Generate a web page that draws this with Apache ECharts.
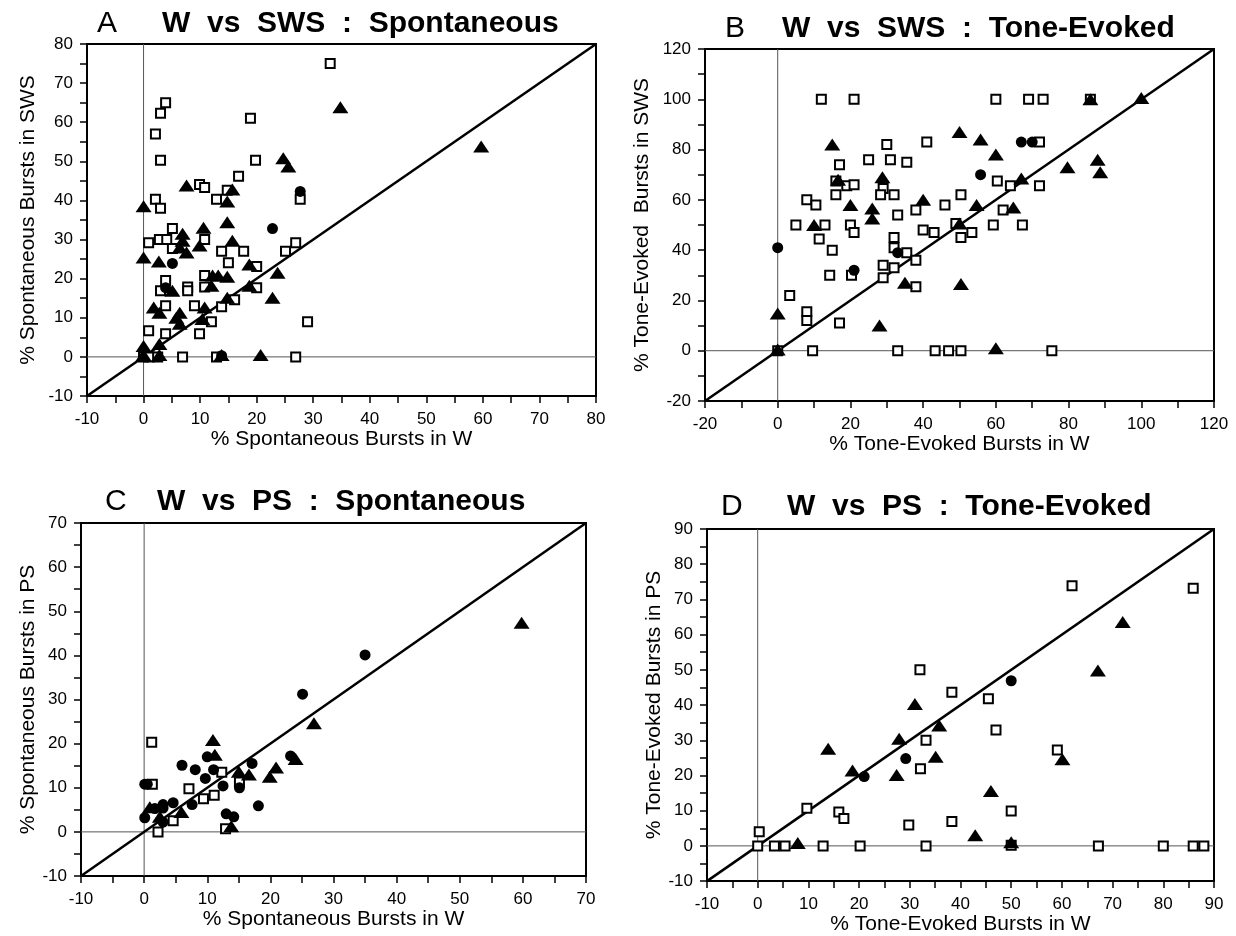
<!DOCTYPE html>
<html>
<head>
<meta charset="utf-8">
<script src="https://cdn.jsdelivr.net/npm/echarts@6/dist/echarts.min.js"></script>
<style>html,body{margin:0;padding:0;background:#fff;}#c{width:1236px;height:936px;}</style>
</head>
<body>
<div id="c"></div>
<script>
// ---------- Panel A: W vs SWS, Spontaneous ----------
const aRange = [-10, 80];
const aSquares = [[33,75],[3.9,65],[3,62.3],[2.1,57],[18.9,61],[3,50.3],[19.8,50.3],[16.8,46.2],[27.7,40.3],[9.9,44.1],[10.8,43.3],[14.8,42.6],[12.9,40.3],[2.1,40.3],[3,38],[5.1,32.8],[0.9,29.2],[2.8,30],[4.1,30],[10.8,30],[5.1,27.7],[13.8,27],[17.7,27],[25.1,27],[26.9,29.2],[15,24.1],[20,23.1],[10.8,20.8],[3.9,19.5],[3,16.9],[7.8,17.9],[7.8,16.9],[10.8,17.9],[20,17.7],[16.1,14.6],[3.9,13.1],[9,13.1],[13.8,12.8],[12,9],[29,9],[0.9,6.7],[3.9,5.9],[9.9,5.9],[0,0],[1,0],[2.5,0],[6.9,0],[12.9,0],[26.9,0]];
const aTriangles = [[34.8,63.8],[24.7,50.8],[25.6,48.7],[7.6,43.8],[15.7,42.8],[14.8,39.7],[0,38.5],[14.8,34.4],[10.6,33],[6.9,31.5],[6.9,29.7],[15.7,29.7],[9.9,28.5],[6.4,28],[7.6,26.7],[0,25.4],[2.7,24.4],[18.7,23.6],[23.7,21.5],[12.2,20.8],[13.2,20.8],[14.8,20.5],[5.1,16.9],[12,18.2],[18.7,18.2],[14.8,15.1],[22.8,15.1],[1.8,12.6],[2.8,11.3],[10.8,12.6],[6.4,11.3],[5.8,10],[10.4,9.7],[6.4,8.5],[0,2.8],[2.8,3.3],[0,0.5],[2.8,0.5],[13.8,0.5],[20.7,0.5],[59.7,53.8]];
const aCircles = [[27.7,42.3],[22.8,32.8],[5.1,23.9],[3.9,17.7],[13.8,0.3]];

// ---------- Panel B: W vs SWS, Tone-Evoked ----------
const bRange = [-20, 120];
const bSquares = [[12,100],[21,100],[60,100],[69,100],[73,100],[86,100],[30,82],[41,83],[72,83],[17,74],[25,76],[31,76],[35.5,75],[16,67.5],[19,65.6],[21,66],[29,64.5],[28.3,62],[32,62],[16,62],[8,60],[10.5,58],[33,54],[38,56],[46,58],[50.4,62],[60.4,67.5],[64,65.6],[72,65.6],[62,56],[59.3,50],[67.3,50],[5,50],[13,50],[20,50],[21,47],[40,48],[43,47],[49,50.6],[50.4,45],[53.4,47],[11.4,44.4],[15,40],[32,45],[32,41],[35.5,39],[38,36],[29,34],[32,33],[29,29],[38,25.4],[14.3,30],[20.3,30],[3.3,22],[8,15.5],[8,12],[17,11],[0,0],[9.6,0],[33,0],[43.3,0],[47,0],[50.4,0],[75.4,0]];
const bTriangles = [[15,82],[50,87],[55.8,84],[60,78],[16.6,68],[28.8,69],[20,58],[26,56.6],[26,52.6],[40,60],[54.7,58],[10,50],[50,50.6],[35,27],[50.4,26.5],[0,14.8],[28,10],[0,0.5],[60,1],[67,68.5],[64.8,57],[79.7,73],[88,76],[88.7,71],[86,100],[100,100.5]];
const bCircles = [[55.8,70],[67,83],[70,83],[0,41],[21,32],[33,39]];

// ---------- Panel C: W vs PS, Spontaneous ----------
const cRange = [-10, 70];
const cSquares = [[1.2,20.3],[12.3,13.5],[15.1,11.3],[1.3,10.8],[7.1,9.8],[9.4,7.5],[11.1,8.3],[4.6,2.5],[2.2,0],[12.9,0.7]];
const cTriangles = [[10.9,20.8],[11.2,17.5],[15,13.6],[16.6,13],[20.9,14.6],[19.9,12.5],[24,16.5],[26.9,24.6],[0.9,5.6],[5.9,4.5],[2.5,3.4],[13.8,1.3],[59.8,47.4]];
const cCircles = [[25.1,31.2],[10,17],[6,15.1],[8.1,14.1],[11,14.1],[17.1,15.5],[23.2,17.2],[9.7,12.1],[12.5,10.4],[15.1,10],[0.1,10.8],[0.5,10.8],[18.1,5.9],[7.6,6.2],[4.6,6.6],[3,6.2],[1.7,5.3],[0.1,3.2],[3,5.4],[3,2.2],[13,4.1],[14.2,3.4],[35,40.1]];

// ---------- Panel D: W vs PS, Tone-Evoked ----------
const dRange = [-10, 90];
const dSquares = [[32,50],[38.3,43.6],[33.2,30],[32.1,21.9],[9.7,10.7],[16,9.6],[17,7.8],[29.8,5.9],[38.3,6.9],[0.3,4],[0,0],[3.3,0],[5.4,0],[12.9,0],[20.2,0],[33.2,0],[62,73.9],[85.9,73.2],[45.5,41.8],[47,32.9],[59.1,27.2],[50,9.9],[50,0.2],[67.2,0],[80,0],[85.9,0],[88,0]];
const dTriangles = [[31,40.3],[35.8,34.2],[27.9,30.4],[13.9,27.6],[35.1,25.3],[18.7,21.4],[27.4,20.1],[7.9,0.8],[72,63.6],[67.1,49.8],[60.1,24.6],[46,15.6],[42.9,3],[50,1]];
const dCircles = [[29.2,24.8],[21,19.7],[50,46.9]];

// ---------- Text ----------
const panelLetters = ['A', 'B', 'C', 'D'];
const panelTitles = ['W  vs  SWS  :  Spontaneous', 'W  vs  SWS  :  Tone-Evoked', 'W  vs  PS  :  Spontaneous', 'W  vs  PS  :  Tone-Evoked'];
const xNames = ['% Spontaneous Bursts in W', '% Tone-Evoked Bursts in W', '% Spontaneous Bursts in W', '% Tone-Evoked Bursts in W'];
const yNames = ['% Spontaneous Bursts in SWS', '% Tone-Evoked  Bursts in SWS', '% Spontaneous Bursts in PS', '% Tone-Evoked Bursts in PS'];
const intervals = [10, 20, 10, 10];

const FONT = '"Liberation Sans", Arial, Helvetica, sans-serif';
const grids = [
  {left: 87, top: 44, width: 509, height: 352},
  {left: 705, top: 49, width: 509, height: 352},
  {left: 81, top: 523, width: 505, height: 353},
  {left: 707, top: 529, width: 507, height: 353}
];
const letterPos = [[97, 24], [725, 29], [105, 502], [721, 507]];
const titlePos = [[162, 24], [782, 29], [157, 502], [787, 507]];
const yNameGap = [48, 52, 42, 42];

const ranges = [aRange, bRange, cRange, dRange];
const sets = [
  [aSquares, aTriangles, aCircles],
  [bSquares, bTriangles, bCircles],
  [cSquares, cTriangles, cCircles],
  [dSquares, dTriangles, dCircles]
];

function axis(i, isX) {
  const r = ranges[i];
  return {
    type: 'value', gridIndex: i, min: r[0], max: r[1], interval: intervals[i],
    name: isX ? xNames[i] : yNames[i],
    nameLocation: 'middle',
    nameGap: isX ? 32 : yNameGap[i],
    nameTextStyle: {fontFamily: FONT, fontSize: 21, color: '#000'},
    axisLine: {show: true, onZero: false, lineStyle: {color: '#000', width: 2}},
    axisTick: {show: true, inside: false, length: 7, lineStyle: {color: '#000', width: 1.5}},
    minorTick: {show: true, splitNumber: 2, length: 7, lineStyle: {color: '#000', width: 1.5}},
    axisLabel: {fontFamily: FONT, fontSize: 17, color: '#000', margin: isX ? 15 : 14},
    splitLine: {show: false},
    minorSplitLine: {show: false}
  };
}

const series = [];
for (let i = 0; i < 4; i++) {
  const r = ranges[i];
  const base = {xAxisIndex: i, yAxisIndex: i, silent: true, animation: false};
  series.push(Object.assign({type: 'line', data: [[0, r[0]], [0, r[1]]], symbol: 'none', lineStyle: {color: '#555', width: 1}, z: 1}, base));
  series.push(Object.assign({type: 'line', data: [[r[0], 0], [r[1], 0]], symbol: 'none', lineStyle: {color: '#555', width: 1}, z: 1}, base));
  series.push(Object.assign({type: 'line', data: [[r[0], r[0]], [r[1], r[1]]], symbol: 'none', lineStyle: {color: '#000', width: 2.5}, z: 2}, base));
  series.push(Object.assign({type: 'scatter', data: sets[i][0], symbol: 'rect', symbolSize: 9, itemStyle: {color: '#fff', borderColor: '#000', borderWidth: 2, opacity: 1}, z: 3}, base));
  series.push(Object.assign({type: 'scatter', data: sets[i][1], symbol: 'triangle', symbolSize: [16, 12], itemStyle: {color: '#000', opacity: 1}, z: 4}, base));
  series.push(Object.assign({type: 'scatter', data: sets[i][2], symbol: 'circle', symbolSize: 11, itemStyle: {color: '#000', opacity: 1}, z: 4}, base));
}

const graphics = [];
for (let i = 0; i < 4; i++) {
  graphics.push({type: 'text', x: letterPos[i][0], y: letterPos[i][1], style: {text: panelLetters[i], font: '30px ' + FONT, fill: '#000', textVerticalAlign: 'middle', verticalAlign: 'middle'}});
  graphics.push({type: 'text', x: titlePos[i][0], y: titlePos[i][1], style: {text: panelTitles[i], font: 'bold 30px ' + FONT, fill: '#000', textVerticalAlign: 'middle', verticalAlign: 'middle'}});
}

const chart = echarts.init(document.getElementById('c'), null, {renderer: 'canvas'});
chart.setOption({
  backgroundColor: '#fff',
  animation: false,
  grid: grids.map(g => Object.assign({show: true, borderColor: '#000', borderWidth: 2, backgroundColor: 'transparent', containLabel: false}, g)),
  xAxis: [0, 1, 2, 3].map(i => axis(i, true)),
  yAxis: [0, 1, 2, 3].map(i => axis(i, false)),
  series: series,
  graphic: graphics
});
</script>
</body>
</html>
